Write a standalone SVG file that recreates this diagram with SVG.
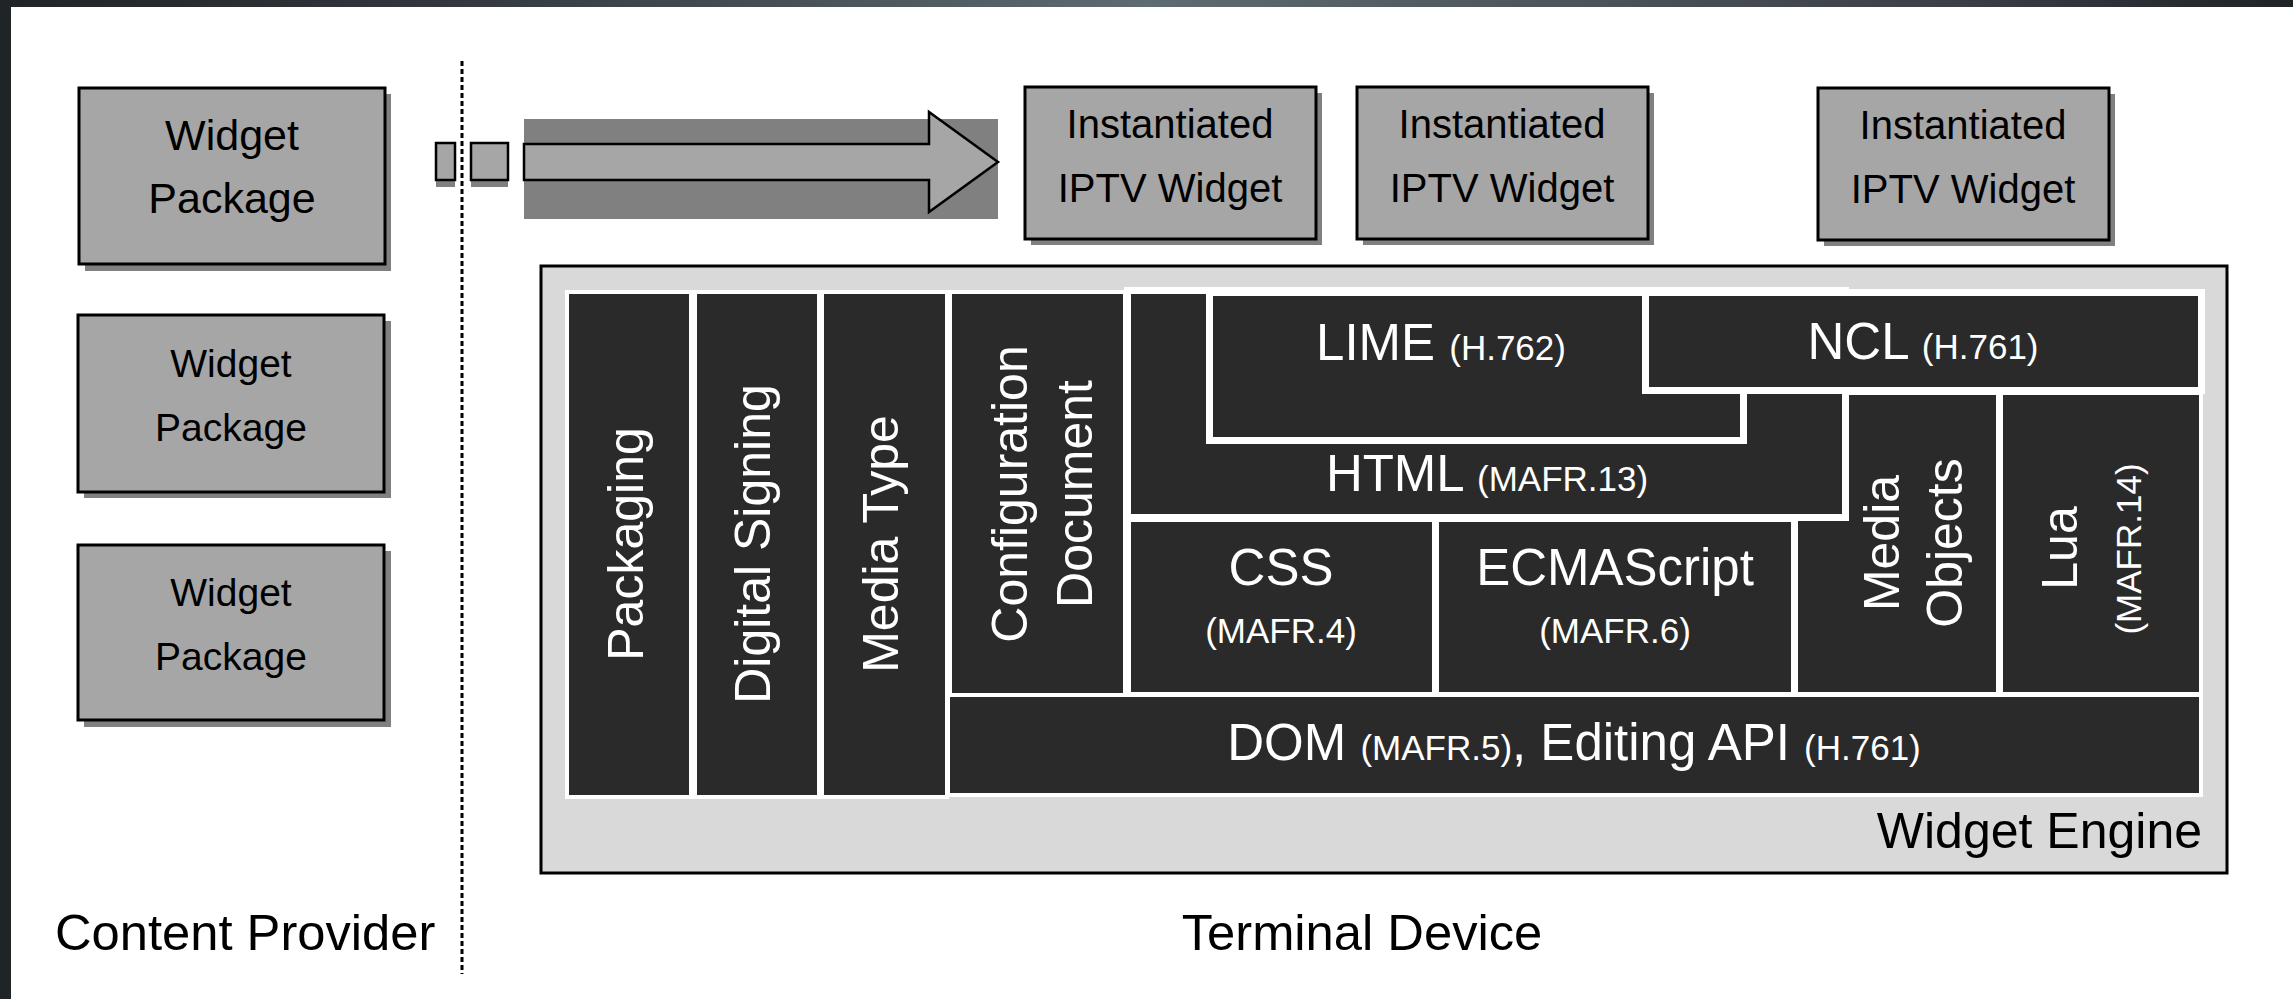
<svg xmlns="http://www.w3.org/2000/svg" width="2293" height="999" viewBox="0 0 2293 999">
<defs>
<linearGradient id="topband" x1="0" y1="0" x2="1" y2="0">
<stop offset="0" stop-color="#1f2427"/>
<stop offset="0.2" stop-color="#33383f"/>
<stop offset="0.5" stop-color="#5d6b72"/>
<stop offset="0.7" stop-color="#4a5357"/>
<stop offset="0.85" stop-color="#3c3f48"/>
<stop offset="1" stop-color="#1e2326"/>
</linearGradient>
<style>
text{font-family:"Liberation Sans",Arial,Helvetica,sans-serif;}
.box{fill:#a6a6a6;stroke:#000;stroke-width:3;}
.shadow{fill:#808080;}
.blk{fill:#2a2a2a;stroke:#fff;stroke-width:8;paint-order:stroke;}
.blk2{fill:#2a2a2a;stroke:#fff;stroke-width:14;paint-order:stroke;}
.wt{fill:#fff;}
.bt{fill:#000;}
.lg{font-size:51px;}
.sm{font-size:35px;}
.vt{font-size:50px;fill:#fff;}
.wp1{font-size:43px;}
.wp{font-size:39px;}
.iw{font-size:40px;}
.cap{font-size:50px;}
.cap2{font-size:50.7px;}
</style>
</defs>
<rect x="0" y="0" width="2293" height="999" fill="#fff"/>
<rect x="0" y="0" width="2293" height="7" fill="url(#topband)"/>
<rect x="0" y="0" width="11" height="999" fill="#1f2427"/>

<g id="connectors">
<line x1="462" y1="61" x2="462" y2="974" stroke="#000" stroke-width="3" stroke-dasharray="5 3"/>
<rect class="shadow" x="524" y="119" width="474" height="100"/>
<polygon points="524,144 929,144 929,112 998,162 929,212 929,180 524,180" fill="#a6a6a6" stroke="#000" stroke-width="2.5" stroke-linejoin="miter"/>
<rect class="shadow" x="436" y="180" width="19" height="7"/>
<rect class="shadow" x="471" y="180" width="37" height="7"/>
<rect x="436" y="143" width="19" height="37" fill="#a6a6a6" stroke="#000" stroke-width="2.5"/>
<rect x="471" y="143" width="37" height="37" fill="#a6a6a6" stroke="#000" stroke-width="2.5"/>
</g>

<g id="widget-package-1">
<rect class="shadow" x="85" y="94" width="306" height="177"/>
<rect class="box" x="79" y="88" width="306" height="176"/>
<text class="bt wp1" x="232" y="150" text-anchor="middle">Widget</text>
<text class="bt wp1" x="232" y="213" text-anchor="middle">Package</text>
</g>
<g id="widget-package-2">
<rect class="shadow" x="84" y="321" width="307" height="177"/>
<rect class="box" x="78" y="315" width="306" height="177"/>
<text class="bt wp" x="231" y="377" text-anchor="middle">Widget</text>
<text class="bt wp" x="231" y="441" text-anchor="middle">Package</text>
</g>
<g id="widget-package-3">
<rect class="shadow" x="84" y="551" width="307" height="176"/>
<rect class="box" x="78" y="545" width="306" height="175"/>
<text class="bt wp" x="231" y="606" text-anchor="middle">Widget</text>
<text class="bt wp" x="231" y="670" text-anchor="middle">Package</text>
</g>

<g id="instantiated-1">
<rect class="shadow" x="1031" y="93" width="291" height="152"/>
<rect class="box" x="1025" y="87" width="291" height="152"/>
<text class="bt iw" x="1170" y="138" text-anchor="middle">Instantiated</text>
<text class="bt iw" x="1170" y="202" text-anchor="middle">IPTV Widget</text>
</g>
<g id="instantiated-2">
<rect class="shadow" x="1363" y="93" width="291" height="152"/>
<rect class="box" x="1357" y="87" width="291" height="152"/>
<text class="bt iw" x="1502" y="138" text-anchor="middle">Instantiated</text>
<text class="bt iw" x="1502" y="202" text-anchor="middle">IPTV Widget</text>
</g>
<g id="instantiated-3">
<rect class="shadow" x="1824" y="94" width="291" height="152"/>
<rect class="box" x="1818" y="88" width="291" height="152"/>
<text class="bt iw" x="1963" y="139" text-anchor="middle">Instantiated</text>
<text class="bt iw" x="1963" y="203" text-anchor="middle">IPTV Widget</text>
</g>

<g id="widget-engine">
<rect x="541" y="266" width="1686" height="607" fill="#d9d9d9" stroke="#000" stroke-width="3"/>
<text class="bt cap" x="2202" y="848" text-anchor="end">Widget Engine</text>
</g>

<g id="packaging">
<rect class="blk" x="569" y="294" width="120" height="501"/>
<text class="vt" transform="translate(643,544) rotate(-90)" text-anchor="middle">Packaging</text>
</g>
<g id="digital-signing">
<rect class="blk" x="697" y="294" width="120" height="501"/>
<text class="vt" transform="translate(770,544) rotate(-90)" text-anchor="middle">Digital Signing</text>
</g>
<g id="media-type">
<rect class="blk" x="824" y="294" width="121" height="501"/>
<text class="vt" transform="translate(898,544) rotate(-90)" text-anchor="middle">Media Type</text>
</g>
<g id="configuration-document">
<rect class="blk" x="952" y="294" width="171" height="399"/>
<text class="vt" transform="translate(1027,494) rotate(-90)" text-anchor="middle">Configuration</text>
<text class="vt" transform="translate(1092,494) rotate(-90)" text-anchor="middle">Document</text>
</g>
<g id="dom">
<rect class="blk" x="950" y="697" width="1249" height="96"/>
<text class="wt" x="1574" y="760" text-anchor="middle"><tspan class="lg">DOM </tspan><tspan class="sm">(MAFR.5)</tspan><tspan class="lg">, Editing API </tspan><tspan class="sm">(H.761)</tspan></text>
</g>
<g id="css">
<rect class="blk" x="1131" y="522" width="301" height="170"/>
<text class="wt lg" x="1281" y="585" text-anchor="middle">CSS</text>
<text class="wt sm" x="1281" y="643" text-anchor="middle">(MAFR.4)</text>
</g>
<g id="ecmascript">
<rect class="blk" x="1439" y="522" width="352" height="170"/>
<text class="wt lg" x="1615" y="585" text-anchor="middle">ECMAScript</text>
<text class="wt sm" x="1615" y="643" text-anchor="middle">(MAFR.6)</text>
</g>
<g id="media-objects">
<rect class="blk" x="1798" y="395" width="198" height="297"/>
<text class="vt" transform="translate(1899,543) rotate(-90)" text-anchor="middle">Media</text>
<text class="vt" transform="translate(1962,543) rotate(-90)" text-anchor="middle">Objects</text>
</g>
<g id="lua">
<rect class="blk" x="2003" y="395" width="196" height="297"/>
<text class="vt" transform="translate(2077,548) rotate(-90)" text-anchor="middle">Lua</text>
<text class="wt sm" transform="translate(2141,549) rotate(-90)" text-anchor="middle">(MAFR.14)</text>
</g>
<g id="html">
<rect class="blk2" x="1131" y="294" width="711" height="220"/>
<text class="wt" x="1487" y="491" text-anchor="middle"><tspan class="lg">HTML </tspan><tspan class="sm">(MAFR.13)</tspan></text>
</g>
<g id="lime">
<rect class="blk2" x="1213" y="296" width="527" height="141"/>
<text class="wt" x="1441" y="360" text-anchor="middle"><tspan class="lg">LIME </tspan><tspan class="sm">(H.762)</tspan></text>
</g>
<g id="ncl">
<rect class="blk2" x="1649" y="296" width="549" height="91"/>
<text class="wt" x="1923" y="359" text-anchor="middle"><tspan class="lg">NCL </tspan><tspan class="sm">(H.761)</tspan></text>
</g>

<g id="labels">
<text class="bt cap2" x="55" y="950">Content Provider</text>
<text class="bt cap2" x="1362" y="950" text-anchor="middle">Terminal Device</text>
</g>
</svg>
